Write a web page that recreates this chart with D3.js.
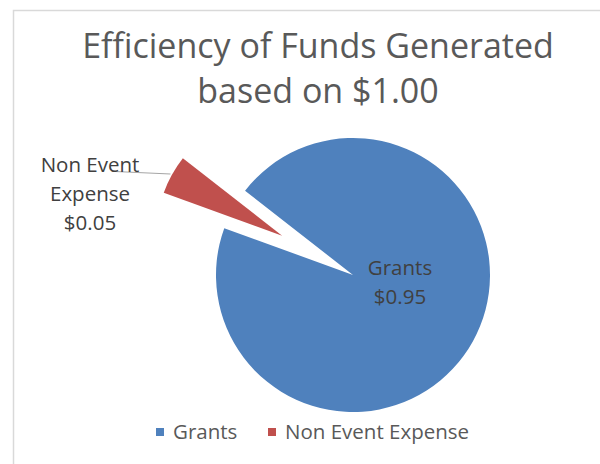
<!DOCTYPE html>
<html>
<head>
<meta charset="utf-8">
<script src="https://cdnjs.cloudflare.com/ajax/libs/d3/7.8.5/d3.min.js"></script>
<style>
  body { margin: 0; background: #fff; }
  text { font-family: "Open Sans", sans-serif; }
</style>
</head>
<body>
<script>
var categories = ["Grants", "Non Event Expense"];
var values = [0.95, 0.05];
var valueLabels = ["$0.95", "$0.05"];
var colors = ["#4F81BD", "#C0504D"];
var titleLines = ["Efficiency of Funds Generated", "based on $1.00"];

var w = 600,
    h = 464;

var cx = 353, cy = 275, r = 137;

var svg = d3.select("body").append("svg")
    .attr("width", w)
    .attr("height", h);

// chart border
svg.append("rect")
    .attr("x", 13.5).attr("y", 10.5)
    .attr("width", 640).attr("height", 480)
    .attr("fill", "none")
    .attr("stroke", "#d9d9d9")
    .attr("stroke-width", 1.5);

// title
svg.append("g").selectAll("text")
    .data(titleLines)
    .enter().append("text")
    .attr("x", 318)
    .attr("y", function (d, i) { return 58 + i * 45; })
    .attr("text-anchor", "middle")
    .attr("font-size", 34)
    .attr("fill", "#595959")
    .text(function (d) { return d; });

var startA = 308 * Math.PI / 180;
var pie = d3.pie()
    .sort(null)
    .startAngle(startA)
    .endAngle(startA + 2 * Math.PI);

var arcs = pie(values);

var arcMain = d3.arc().innerRadius(0).outerRadius(r);
var arcExpl = d3.arc().innerRadius(0).outerRadius(126);
var explode = [0, 81];

var g = svg.append("g").attr("transform", "translate(" + cx + "," + cy + ")");

g.selectAll("path")
    .data(arcs)
    .enter().append("path")
    .attr("d", function (d, i) { return explode[i] ? arcExpl(d) : arcMain(d); })
    .attr("fill", function (d, i) { return colors[i]; })
    .attr("transform", function (d, i) {
        var mid = (d.startAngle + d.endAngle) / 2;
        var dx = Math.sin(mid) * explode[i],
            dy = -Math.cos(mid) * explode[i];
        return "translate(" + dx + "," + dy + ")";
    });

// leader line for the small slice
svg.append("line")
    .attr("x1", 115).attr("y1", 171.5)
    .attr("x2", 170.5).attr("y2", 174)
    .attr("stroke", "#a6a6a6")
    .attr("stroke-width", 1.2);

// data labels
var labelPos = [[400, 275], [90, 172]];
var labelLines = [
    [categories[0], valueLabels[0]],
    ["Non Event", "Expense", valueLabels[1]]
];

labelLines.forEach(function (lines, i) {
    svg.append("g").selectAll("text")
        .data(lines)
        .enter().append("text")
        .attr("x", labelPos[i][0])
        .attr("y", function (d, j) { return labelPos[i][1] + j * 29; })
        .attr("text-anchor", "middle")
        .attr("font-size", 20.5)
        .attr("fill", "#404040")
        .text(function (d) { return d; });
});

// legend
var legendX = [156, 268];
var legend = svg.append("g").selectAll("g")
    .data(categories)
    .enter().append("g")
    .attr("transform", function (d, i) { return "translate(" + legendX[i] + ",428)"; });

legend.append("rect")
    .attr("width", 8).attr("height", 8)
    .attr("fill", function (d, i) { return colors[i]; });

legend.append("text")
    .attr("x", 17)
    .attr("y", 10.5)
    .attr("font-size", 20.5)
    .attr("fill", "#595959")
    .text(function (d) { return d; });
</script>
</body>
</html>
